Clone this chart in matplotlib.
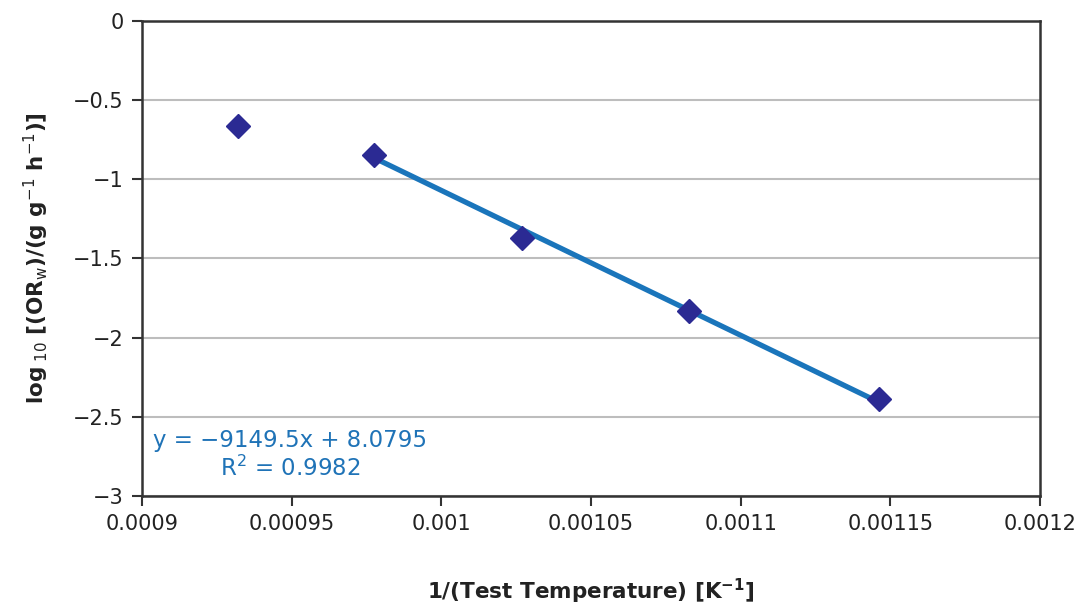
import matplotlib
matplotlib.use("Agg")
import matplotlib.pyplot as plt
import numpy as np

# Data
inv_temp = [0.000932, 0.0009776, 0.001027, 0.0010829, 0.0011462]
log_or = [-0.662, -0.845, -1.368, -1.834, -2.389]
fit_slope = -9149.5
fit_intercept = 8.0795
fit_r2 = 0.9982
fit_start_index = 1

x_ticks = [0.0009, 0.00095, 0.001, 0.00105, 0.0011, 0.00115, 0.0012]
x_tick_labels = ["0.0009", "0.00095", "0.001", "0.00105", "0.0011", "0.00115", "0.0012"]
y_ticks = [0, -0.5, -1, -1.5, -2, -2.5, -3]
y_tick_labels = ["0", "\u22120.5", "\u22121", "\u22121.5", "\u22122", "\u22122.5", "\u22123"]

plt.rcParams['font.family'] = ['DejaVu Sans']

fig = plt.figure(figsize=(10.78, 6.07), dpi=100)
ax = fig.add_axes([0.1317, 0.1829, 0.8330, 0.7825])

ax.set_xlim(0.0009, 0.0012)
ax.set_ylim(-3, 0)
ax.set_xticks(x_ticks)
ax.set_xticklabels(x_tick_labels, fontsize=15, color="#222222")
ax.set_yticks(y_ticks)
ax.set_yticklabels(y_tick_labels, fontsize=15, color="#222222")
ax.tick_params(axis='both', direction='out', length=7, width=1.5, color="#333333", pad=6)

ax.grid(axis='y', color="#bdbdbd", linewidth=1.5)
ax.set_axisbelow(True)
for s in ax.spines.values():
    s.set_color("#333333")
    s.set_linewidth(1.8)

# Trend line
xfit = np.array([inv_temp[fit_start_index], inv_temp[-1]])
yfit = fit_slope * xfit + fit_intercept
ax.plot(xfit, yfit, color="#1a75bb", linewidth=3.8, zorder=3, solid_capstyle='butt')

# Points
ax.plot(inv_temp, log_or, linestyle='none', marker='D', markersize=12,
        color="#2b2a93", markeredgecolor="#2b2a93", zorder=4)

ax.text(0.0009495, -2.74, "y = \u22129149.5x + 8.0795\nR$^{2}$ = %.4f" % fit_r2,
        ha='center', va='center', fontsize=16.5, color="#1f73b7",
        linespacing=1.15, multialignment='center')

ax.set_ylabel("log$_{\\ 10}$ [(OR$_{\\mathrm{w}}$)/(g g$^{-1}$ h$^{-1}$)]",
              fontsize=15.5, fontweight='bold', color="#222222", labelpad=16)
fig.text(0.548, 0.025, "1/(Test Temperature) [K$^{\\mathbf{-1}}$]", ha='center', va='center',
         fontsize=15.5, fontweight='bold', color="#222222")

fig.savefig("out.png", dpi=100)
